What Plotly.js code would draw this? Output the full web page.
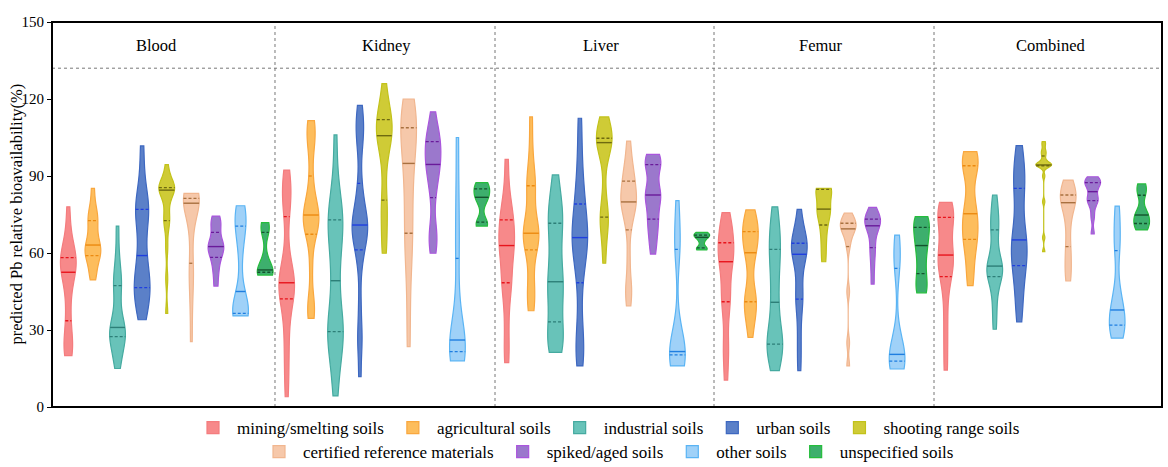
<!DOCTYPE html>
<html><head><meta charset="utf-8">
<script src="https://cdn.plot.ly/plotly-3.0.1.min.js"></script>
<style>html,body{margin:0;padding:0;background:#fff}</style>
</head><body><div id="chart" style="width:1168px;height:467px"></div>
<script>
const panels = ["Blood", "Kidney", "Liver", "Femur", "Combined"];
const soilTypes = ["mining/smelting soils", "agricultural soils", "industrial soils", "urban soils",
  "shooting range soils", "certified reference materials", "spiked/aged soils", "other soils", "unspecified soils"];
const yTicks = [0, 30, 60, 90, 120, 150];
const yTitle = "predicted Pb relative bioavailability(%)";

// predicted Pb RBA (%) samples, one list per soil type, per organ panel
const blood = [
  [20, 22, 24, 27, 33.6, 40, 47, 51, 52.5, 55, 56.5, 57.5, 58.2, 60, 63, 69, 78],
  [49.5, 52, 55, 57.5, 59, 60, 61, 62, 63.1, 65, 67, 70, 72.6, 73.5, 76, 79, 85.2],
  [15, 19, 22, 24.5, 27.4, 28, 29, 30, 31, 34, 38, 44, 47.3, 50, 53, 60, 70.5],
  [34, 38, 42, 44.5, 46.5, 48, 51, 55, 59, 65, 72, 75, 77, 79, 82, 90, 101.7],
  [36.5, 50, 62, 70, 72.6, 74, 78, 82, 84.5, 84.8, 85, 85.2, 85.5, 86, 87, 90, 94.4],
  [25.5, 38, 47, 52, 56, 66, 72, 77, 79.4, 80, 80.5, 81, 81.3, 82, 82.5, 83, 83.2],
  [47.1, 52, 55.5, 58.3, 60, 61.5, 62.5, 63.5, 65, 68, 70.5, 72.5, 74.4],
  [35.5, 35.8, 36.2, 36.5, 37.5, 40, 45, 59.2, 68, 70.5, 73, 76, 78.4],
  [51.4, 52, 52.5, 53, 53.4, 58, 68, 70, 71.8]
];
const kidney = [
  [4, 12, 20, 27, 33, 42.1, 44, 45.5, 46.5, 47.5, 48.4, 49, 50, 52, 60, 74.2, 80, 83, 85, 87, 92.3],
  [34.5, 38, 41, 55, 67.3, 69, 71, 73, 74.8, 76, 78, 82, 90, 101, 105, 109, 111.6],
  [4.3, 12, 20, 24, 27, 29.4, 30, 32, 36, 44, 49.2, 57, 62, 66, 70, 72.9, 74, 77, 80, 90, 106],
  [11.8, 25, 28, 40, 55, 61.2, 64, 67, 68.5, 70, 70.9, 72, 74, 77, 82, 87.1, 100, 106, 109, 112, 117.5],
  [59.9, 65, 72, 78, 80.6, 92, 100, 103, 105.7, 106.5, 107.5, 109, 112, 113, 115, 119, 126],
  [23.5, 40, 55, 62, 67.7, 75, 82, 88, 94.9, 100, 103, 106, 108.8, 112, 115, 118, 120],
  [59.9, 64, 67, 70, 81.6, 86, 90, 93, 94.5, 96, 98, 101, 103.4, 104, 106, 109, 115],
  [18, 19, 20.5, 21.6, 23, 24.5, 26.1, 30, 40, 57.9, 70, 85, 105],
  [70.5, 71, 72, 80, 81.7, 83, 85, 86.5, 87.4]
];
const liver = [
  [17.3, 25, 35, 44, 48.4, 50, 56, 60, 62.9, 64, 66, 70, 72.9, 75, 78, 85, 96.5],
  [37.5, 42, 45, 52, 61.2, 64, 66, 67, 67.7, 69, 72, 79, 86.2, 87, 90, 100, 113],
  [21.3, 24, 26, 28, 33.2, 40, 45, 47, 48.8, 55, 60, 66, 71.6, 74, 77, 82, 90.4],
  [16, 22, 25, 35, 48.4, 55, 60, 63, 66, 67, 70, 74, 79.1, 83, 90, 100, 112.5],
  [56, 64, 72, 73, 74, 75, 85, 98, 103, 103.3, 103.6, 104, 104.7, 105.5, 107, 110, 113],
  [39.4, 45, 48, 58, 69, 74, 77, 79, 79.9, 81, 83, 86, 88, 90, 93, 97, 103.6],
  [59.6, 64, 68, 71, 73.2, 76, 80, 82, 82.6, 83.5, 85, 91, 94.4, 95, 96, 97, 98.4],
  [16, 17, 18.5, 20.3, 20.8, 21.2, 21.6, 23, 30, 61.4, 62, 70, 80.4],
  [61.2, 61.6, 62, 64.5, 66.1, 66.5, 67, 67.5, 68]
];
const femur = [
  [10.5, 20, 25, 35, 41, 43, 47, 53, 56.6, 58, 60, 62, 64, 67, 70, 72, 75.7],
  [27.1, 33, 37, 39, 41, 43, 46, 55, 60.1, 62, 64, 66, 68.3, 70, 72, 74, 76.8],
  [14.2, 19, 22, 23.5, 24.5, 26, 29, 35, 40.8, 46, 52, 57, 61.4, 63, 68, 72, 78],
  [14.2, 22, 30, 39, 42, 44, 50, 56, 59.5, 60.5, 61.5, 62.5, 63.8, 65, 67, 71, 77],
  [56.6, 62, 67, 70.9, 74, 76, 77.1, 78, 82, 84.8, 85, 85.1, 85.2],
  [16, 25, 45, 62.5, 66, 68, 69.4, 70, 71, 71.6, 72.5, 74, 75.5],
  [47.9, 54, 59, 62.1, 66, 69, 70.6, 71.5, 72.5, 73.2, 74, 75.5, 77.8],
  [14.8, 15.5, 16.5, 17.9, 18.8, 19.5, 20.5, 22, 28, 54, 57, 62, 67],
  [44.5, 47, 52, 58, 62.9, 66, 70, 72.5, 74.2]
];
const combined = [
  [14.4, 25, 35, 45, 50.8, 53, 56, 58, 59.2, 61, 66, 71, 73.9, 75, 76.5, 78, 79.7],
  [47.3, 52, 58, 63, 65.3, 67, 70, 73, 75.3, 77, 82, 91, 94, 95, 96.5, 98, 99.5],
  [30.3, 37, 43, 48, 50.8, 52, 53, 54, 54.9, 56, 59, 64, 69, 71, 74, 78, 82.6],
  [33.2, 40, 46, 51, 55.1, 58, 60, 63, 65.1, 68, 73, 80, 85.2, 88, 92, 96, 101.8],
  [60.5, 66, 80, 90, 94, 94.1, 94.2, 94.25, 94.3, 94.5, 95, 96, 97.8, 99, 100, 102, 103.4],
  [49.1, 53, 58, 62.5, 70, 76, 79.6, 80.5, 81.5, 82.6, 84, 86, 88.4],
  [67.4, 74, 78, 80.4, 80.8, 81.5, 83.9, 86, 86.8, 87.4, 88, 88.8, 89.7],
  [26.8, 28.5, 30, 31.9, 33.5, 35.5, 37.8, 41, 46, 60.9, 65, 72, 78.3],
  [69, 70, 71.5, 73.5, 74.8, 76, 82.5, 85, 86.9]
];
const panelData = [blood, kidney, liver, femur, combined];

// styles
const fillColors = ["#f7898a", "#fdbd5c", "#68c3b9", "#5b80c8", "#cfcb36", "#f6c8aa", "#9b78cc", "#9fd1f8", "#3daf6d"];
const lineColors = ["#f47c7e", "#f9a73e", "#45aaa0", "#3d67c0", "#c2c21a", "#f1b68f", "#aa55dd", "#5ab4f4", "#25bd3c"];
const qColors = ["#e8141c", "#ec8a10", "#2d7f78", "#1f3ee0", "#6e6a10", "#a8703f", "#6a1a9a", "#1f7ee0", "#14532d"];
const domains = [[0, 0.2009], [0.2009, 0.3991], [0.3991, 0.5964], [0.5964, 0.7946], [0.7946, 1]];
const ranges = [[-0.663, 8.40], [-0.48, 8.54], [-0.48, 8.50], [-0.49, 8.51], [-0.48, 8.83]];
const labelPx = [156, 386.7, 601, 821, 1050];
const PL = 52, PW = 1110, H = 467;
const VW = 0.64;
const BWF = 0.62;
const FONT = "'Liberation Serif', 'Times New Roman', 'DejaVu Serif', serif";

function quantile(s, p) {
  const pos = (s.length - 1) * p, lo = Math.floor(pos), hi = Math.ceil(pos);
  return s[lo] + (s[hi] - s[lo]) * (pos - lo);
}
function stdev(a) {
  const m = a.reduce((x, y) => x + y, 0) / a.length;
  return Math.sqrt(a.reduce((x, y) => x + (y - m) * (y - m), 0) / (a.length - 1));
}
function bandwidth(s) {
  const iqr = quantile(s, 0.75) - quantile(s, 0.25);
  const sd = stdev(s);
  let m = Math.min(sd, iqr / 1.34);
  if (!(m > 0)) m = sd;
  return BWF * m * Math.pow(s.length, -0.2);
}
function kde(s, b, y) {
  let t = 0;
  for (const v of s) { const z = (y - v) / b; t += Math.exp(-0.5 * z * z); }
  return t;
}
function maxDensity(s, b) {
  const lo = s[0], hi = s[s.length - 1];
  const n = Math.max(1, Math.ceil((hi - lo) / (b / 3)));
  let mx = 0;
  for (let i = 0; i <= n; i++) mx = Math.max(mx, kde(s, b, lo + (hi - lo) * i / n));
  return mx;
}

const traces = [];
const lineTraces = [];
panelData.forEach((groups, p) => {
  const xa = p === 0 ? "x" : "x" + (p + 1);
  groups.forEach((vals, c) => {
    const s = [...vals].sort((a, b) => a - b);
    const b = bandwidth(s);
    const mx = maxDensity(s, b);
    const hw = y => VW / 2 * kde(s, b, y) / mx;
    traces.push({
      type: "violin", x0: c, y: vals, xaxis: xa, yaxis: "y",
      name: soilTypes[c], legendgroup: soilTypes[c], showlegend: p === 0,
      legend: c < 5 ? "legend" : "legend2",
      width: VW, scalemode: "width", spanmode: "hard", bandwidth: b,
      points: false, box: { visible: false }, meanline: { visible: false },
      fillcolor: fillColors[c], opacity: 1,
      line: { color: lineColors[c], width: 1.2 },
      hoverinfo: "y"
    });
    const q1 = quantile(s, 0.25), md = quantile(s, 0.5), q3 = quantile(s, 0.75);
    lineTraces.push({
      type: "scatter", mode: "lines", xaxis: xa, yaxis: "y", showlegend: false, hoverinfo: "skip",
      x: [c - hw(q1), c + hw(q1), null, c - hw(q3), c + hw(q3)], y: [q1, q1, null, q3, q3],
      line: { color: qColors[c], width: 1.3, dash: "3px,2px" }
    });
    lineTraces.push({
      type: "scatter", mode: "lines", xaxis: xa, yaxis: "y", showlegend: false, hoverinfo: "skip",
      x: [c - hw(md), c + hw(md)], y: [md, md],
      line: { color: qColors[c], width: 1.4 }
    });
  });
});

const layout = {
  width: 1168, height: H,
  margin: { l: PL, r: 1168 - PL - PW, t: 22, b: 60 },
  paper_bgcolor: "#fff", plot_bgcolor: "#fff",
  font: { family: FONT, color: "#000", size: 15 },
  violinmode: "overlay",
  yaxis: {
    range: [0, 150], tickvals: yTicks, ticks: "outside", ticklen: 4, tickcolor: "#000",
    showgrid: false, zeroline: false, showline: false, tickfont: { size: 15, family: FONT, color: "#000" }
  },
  legend: {
    orientation: "h", xref: "paper", x: 0.5, xanchor: "center",
    yref: "container", y: (H - 428) / H, yanchor: "middle", itemwidth: 38,
    font: { family: FONT, size: 17, color: "#000" }, bgcolor: "rgba(0,0,0,0)"
  },
  legend2: {
    orientation: "h", xref: "paper", x: 0.5, xanchor: "center",
    yref: "container", y: (H - 452) / H, yanchor: "middle", itemwidth: 38,
    font: { family: FONT, size: 17, color: "#000" }, bgcolor: "rgba(0,0,0,0)"
  },
  shapes: [],
  annotations: [{
    text: yTitle, xref: "paper", yref: "paper", x: (16 - PL) / PW, y: 0.5, textangle: -90,
    xanchor: "center", yanchor: "middle", showarrow: false, font: { family: FONT, size: 16.5, color: "#000" }
  }]
};
panels.forEach((name, p) => {
  const key = p === 0 ? "xaxis" : "xaxis" + (p + 1);
  layout[key] = {
    type: "linear", domain: domains[p], range: ranges[p], anchor: "y",
    showticklabels: false, ticks: "", showgrid: false, zeroline: false, showline: false, fixedrange: true
  };
  layout.annotations.push({
    text: name, xref: "paper", yref: "y", x: (labelPx[p] - PL) / PW, y: 140.8,
    xanchor: "center", yanchor: "middle", showarrow: false, font: { family: FONT, size: 16.5, color: "#000" }
  });
  if (p > 0) {
    layout.shapes.push({
      type: "line", xref: "paper", yref: "paper", x0: domains[p][0], x1: domains[p][0], y0: 0, y1: 1,
      line: { color: "#777", width: 1, dash: "dot" }
    });
  }
});
layout.shapes.push({
  type: "line", xref: "paper", yref: "y", x0: 0, x1: 1, y0: 132, y1: 132,
  line: { color: "#777", width: 1, dash: "dot" }
});
layout.shapes.push({
  type: "rect", xref: "paper", yref: "paper", x0: 0, x1: 1, y0: 0, y1: 1,
  line: { color: "#000", width: 2 }, fillcolor: "rgba(0,0,0,0)"
});

Plotly.newPlot("chart", traces.concat(lineTraces), layout, { displayModeBar: false, staticPlot: true });
</script>
</body></html>
